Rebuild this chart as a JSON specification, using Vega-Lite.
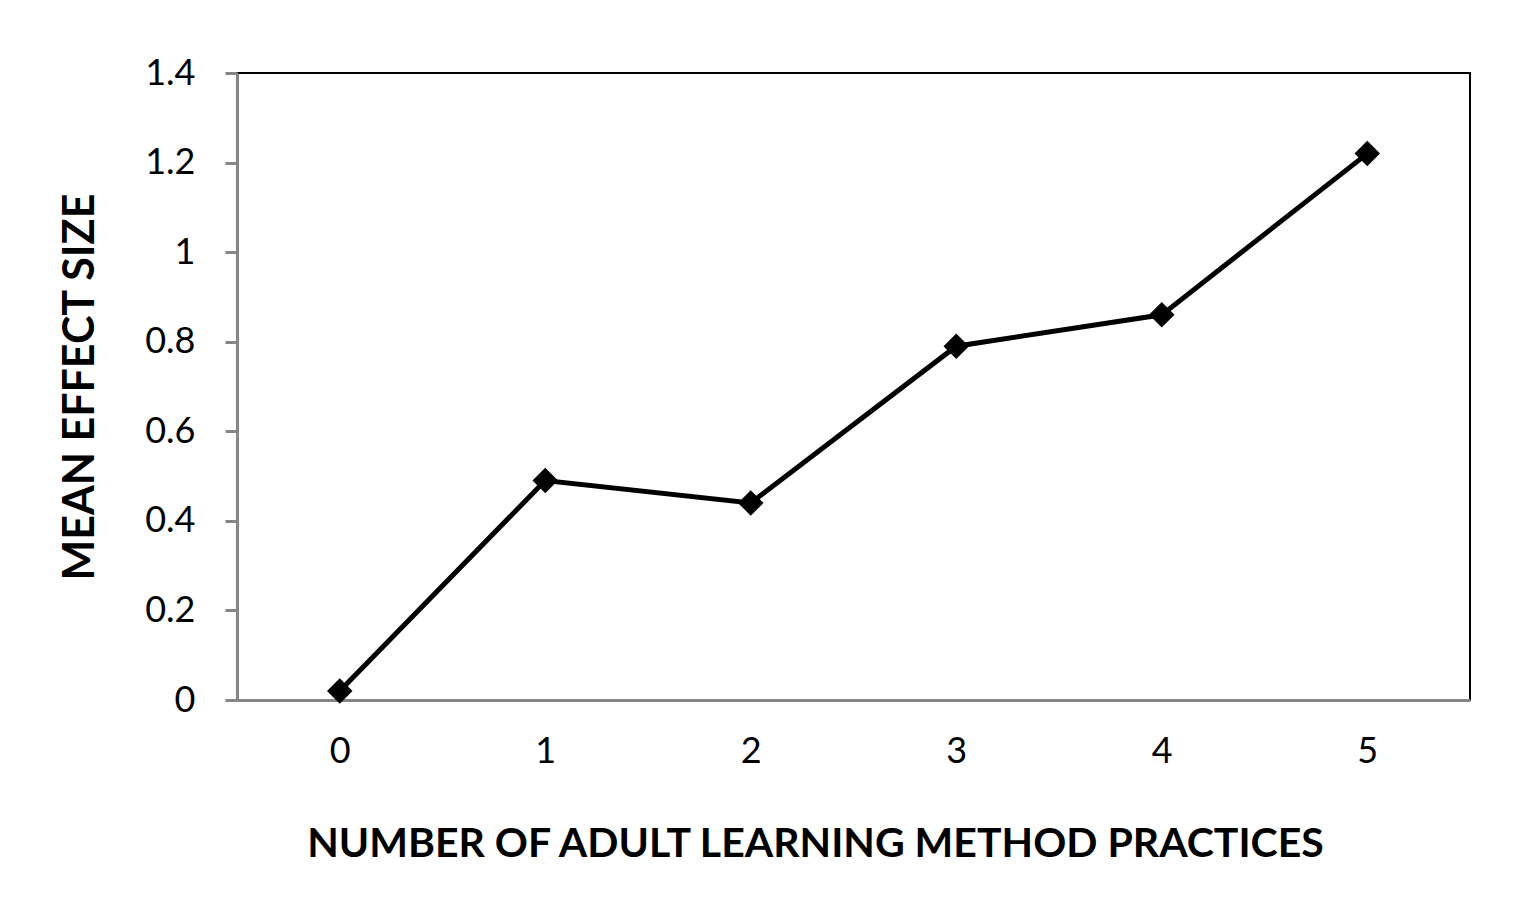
{
  "$schema": "https://vega.github.io/schema/vega-lite/v6.json",
  "autosize": "none",
  "width": 1233,
  "height": 627,
  "padding": {"left": 237, "top": 73, "right": 43, "bottom": 200},
  "background": "#ffffff",
  "config": {
    "font": "Lato",
    "view": {"stroke": "#000000", "strokeWidth": 2}
  },
  "data": {
    "values": [
      {"practices": "0", "effect": 0.02},
      {"practices": "1", "effect": 0.49},
      {"practices": "2", "effect": 0.44},
      {"practices": "3", "effect": 0.79},
      {"practices": "4", "effect": 0.86},
      {"practices": "5", "effect": 1.22}
    ]
  },
  "mark": {"type": "line", "color": "#000000", "strokeWidth": 5, "point": {"shape": "diamond", "size": 650, "filled": true, "color": "#000000", "opacity": 1}},
  "encoding": {
    "x": {
      "field": "practices",
      "type": "ordinal",
      "scale": {"padding": 0.5},
      "axis": {
        "title": "NUMBER OF ADULT LEARNING METHOD PRACTICES",
        "titleFont": "Lato",
        "titleFontSize": 41,
        "titleFontWeight": "bold",
        "titleColor": "#000000",
        "titleX": 578,
        "titlePadding": 55,
        "labelAngle": 0,
        "labelFontSize": 36,
        "labelColor": "#000000",
        "labelPadding": 34,
        "ticks": false,
        "domainColor": "#868686",
        "domainWidth": 3,
        "grid": false
      }
    },
    "y": {
      "field": "effect",
      "type": "quantitative",
      "scale": {"domain": [0, 1.4], "nice": false},
      "axis": {
        "title": "MEAN EFFECT SIZE",
        "titleFontSize": 43,
        "titleFontWeight": "bold",
        "titleColor": "#000000",
        "titlePadding": 42,
        "values": [0, 0.2, 0.4, 0.6, 0.8, 1, 1.2, 1.4],
        "labelFontSize": 36,
        "labelColor": "#000000",
        "labelPadding": 30,
        "tickSize": 12,
        "tickColor": "#868686",
        "tickWidth": 3,
        "domainColor": "#868686",
        "domainWidth": 3,
        "grid": false,
        "labelExpr": "datum.value === 0 ? '0' : datum.value === 1 ? '1' : format(datum.value, '.1f')"
      }
    }
  }
}
